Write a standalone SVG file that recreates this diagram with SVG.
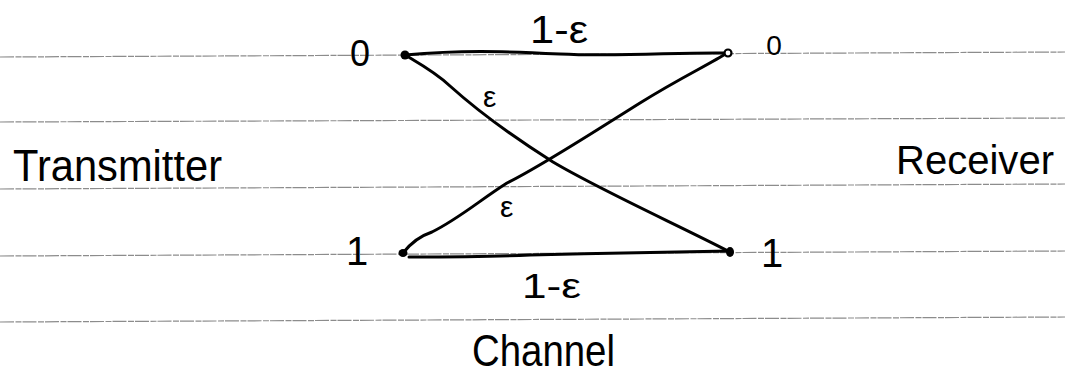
<svg xmlns="http://www.w3.org/2000/svg" width="1065" height="379" viewBox="0 0 1065 379">
  <style>
    .rule { stroke: #8c8c8c; stroke-width: 1.2; stroke-dasharray: 14 1.5 6 1; fill: none; }
    .edge { stroke: #000; stroke-width: 3; fill: none; stroke-linecap: round; stroke-linejoin: round; }
    .lbl { font-family: "Liberation Sans", "DejaVu Sans", sans-serif; fill: #000; }
    .dot { fill: #000; }
    .ring { fill: #fff; stroke: #000; stroke-width: 2.2; }
  </style>
  <rect width="1065" height="379" fill="#fff"/>
  <g id="paper-lines">
    <line class="rule" x1="0" y1="57" x2="1065" y2="52"/>
    <line class="rule" x1="0" y1="122" x2="1065" y2="118"/>
    <line class="rule" x1="0" y1="189" x2="1065" y2="184"/>
    <line class="rule" x1="0" y1="256" x2="1065" y2="251"/>
    <line class="rule" x1="0" y1="322" x2="1065" y2="317"/>
  </g>
  <g id="connectors">
    <path class="edge" d="M405,55 C460,50 500,51 560,54 C620,57 680,52 727,53"/>
    <path class="edge" d="M405,55 C420,64 435,72 450,86 C480,113 515,138 553,162 C600,190 680,226 730,252"/>
    <path class="edge" d="M403,253 C410,244 420,236 432,232 C460,218 480,200 507,183 C540,167 600,128 640,103 C680,78 710,64 727,53"/>
    <path class="edge" d="M409,257 C450,257 490,257 530,255 C600,253 680,252 730,251"/>
  </g>
  <g id="tx0">
    <circle class="dot" cx="405" cy="55" r="4.5"/>
    <text class="lbl" x="360" y="66" font-size="36" text-anchor="middle">0</text>
  </g>
  <g id="tx1">
    <ellipse class="dot" cx="403" cy="253" rx="4.5" ry="4"/>
    <text class="lbl" x="357" y="265" font-size="40" text-anchor="middle">1</text>
  </g>
  <g id="rx0">
    <circle class="ring" cx="728" cy="53" r="3.5"/>
    <text class="lbl" x="774" y="55" font-size="28" text-anchor="middle">0</text>
  </g>
  <g id="rx1">
    <ellipse class="dot" cx="730" cy="252" rx="4" ry="5"/>
    <text class="lbl" x="772" y="267" font-size="40" text-anchor="middle">1</text>
  </g>
  <g id="labels">
    <text class="lbl" x="13" y="181" font-size="44" textLength="209" lengthAdjust="spacingAndGlyphs">Transmitter</text>
    <text class="lbl" x="896" y="174" font-size="40" textLength="158" lengthAdjust="spacingAndGlyphs">Receiver</text>
    <text class="lbl" x="472" y="366" font-size="44" textLength="143" lengthAdjust="spacingAndGlyphs">Channel</text>
    <text class="lbl" x="530" y="43" font-size="38" textLength="58" lengthAdjust="spacingAndGlyphs">1-ε</text>
    <text class="lbl" x="522" y="298" font-size="35" textLength="59" lengthAdjust="spacingAndGlyphs">1-ε</text>
    <text class="lbl" x="483" y="107" font-size="30">ε</text>
    <text class="lbl" x="500" y="217" font-size="30">ε</text>
  </g>
</svg>
